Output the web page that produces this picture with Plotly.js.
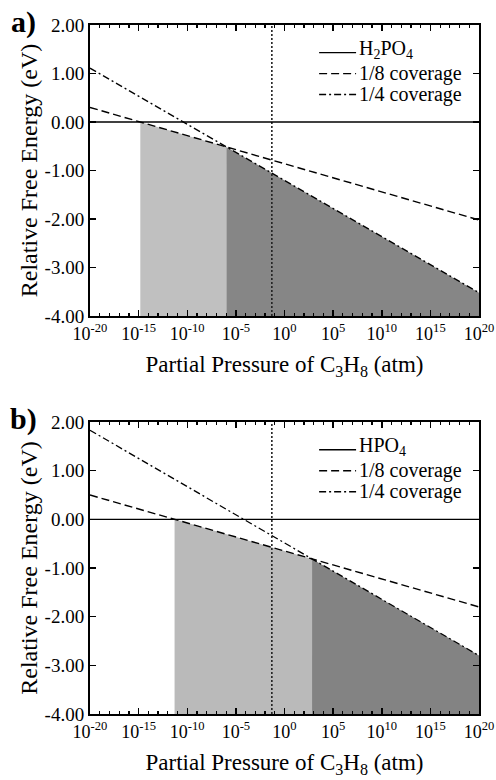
<!DOCTYPE html>
<html>
<head>
<meta charset="utf-8">
<script src="https://cdn.plot.ly/plotly-3.0.1.min.js"></script>
<style>html,body{margin:0;padding:0;background:#fff;}#chart{width:496px;height:780px;}</style>
</head>
<body>
<div id="chart"></div>
<script>
// ---------------- data ----------------
const pressureEnds = [1e-20, 1e20];          // x extent of every line (atm)
const refPressure = 0.05;                   // vertical dotted line (atm)

const panelA_label = 'a)';
const panelA_names = ['H<sub>2</sub>PO<sub>4</sub>', '1/8 coverage', '1/4 coverage'];
const panelA_base = [0, 0];                 // H2PO4 reference
const panelA_cov8 = [0.30, -2.02];          // 1/8 coverage
const panelA_cov4 = [1.11, -3.52];          // 1/4 coverage

const panelB_label = 'b)';
const panelB_names = ['HPO<sub>4</sub>', '1/8 coverage', '1/4 coverage'];
const panelB_base = [0, 0];
const panelB_cov8 = [0.50, -1.80];
const panelB_cov4 = [1.83, -2.80];

const xTickExps = [-20, -15, -10, -5, 0, 5, 10, 15, 20];
const xTickText = xTickExps.map(e => '10<sup>' + e + '</sup>');
const yTickVals = [-4, -3, -2, -1, 0, 1, 2];
const yTickText = yTickVals.map(v => v.toFixed(2));

// ---------------- helpers ----------------
const FONT = '"Liberation Serif", "Times New Roman", Times, serif';
const yRange = [-4, 2];
const xRangeExp = [-20, 20];
const lx = pressureEnds.map(Math.log10);

function lineAt(ys, d) { // linear in log10(p)
  return ys[0] + (ys[1] - ys[0]) * (d - lx[0]) / (lx[1] - lx[0]);
}
function crossing(ya, yb) { // exponent where two lines meet
  const sa = (ya[1] - ya[0]) / (lx[1] - lx[0]);
  const sb = (yb[1] - yb[0]) / (lx[1] - lx[0]);
  return lx[0] + (yb[0] - ya[0]) / (sa - sb);
}

const DASH8 = '8px,4px';
const DASH4 = '7px,3px,2px,3px';

function panelTraces(base, cov8, cov4, names, xa, ya, light, dark) {
  const d0 = crossing(base, cov8);
  const d1 = crossing(cov8, cov4);
  const y1 = lineAt(cov8, d1);
  const yEnd = cov4[1];
  const t = [];
  t.push({x: [10**d0, 10**d0, 10**d1, 10**d1], y: [yRange[0], lineAt(cov8, d0), y1, yRange[0]],
    fill: 'toself', fillcolor: light, mode: 'lines', line: {width: 0, color: light},
    xaxis: xa, yaxis: ya, showlegend: false, hoverinfo: 'skip'});
  t.push({x: [10**d1, 10**d1, pressureEnds[1], pressureEnds[1]], y: [yRange[0], y1, yEnd, yRange[0]],
    fill: 'toself', fillcolor: dark, mode: 'lines', line: {width: 0, color: dark},
    xaxis: xa, yaxis: ya, showlegend: false, hoverinfo: 'skip'});
  t.push({x: [refPressure, refPressure], y: yRange, mode: 'lines',
    line: {color: '#222', width: 1.6, dash: '2px,2px'}, xaxis: xa, yaxis: ya, showlegend: false});
  t.push({x: pressureEnds, y: base, mode: 'lines', name: names[0], line: {color: '#000', width: 1.4},
    xaxis: xa, yaxis: ya, showlegend: false});
  t.push({x: pressureEnds, y: cov8, mode: 'lines', name: names[1], line: {color: '#000', width: 1.4, dash: DASH8},
    xaxis: xa, yaxis: ya, showlegend: false});
  t.push({x: pressureEnds, y: cov4, mode: 'lines', name: names[2], line: {color: '#000', width: 1.3, dash: DASH4},
    xaxis: xa, yaxis: ya, showlegend: false});
  return t;
}

const data = [].concat(
  panelTraces(panelA_base, panelA_cov8, panelA_cov4, panelA_names, 'x', 'y', '#c0c0c0', '#868686'),
  panelTraces(panelB_base, panelB_cov8, panelB_cov4, panelB_names, 'x2', 'y2', '#bababa', '#838383')
);

const minorVals = [];
for (let e = xRangeExp[0]; e <= xRangeExp[1]; e++) minorVals.push(10**e);

function xAxis(anchor) {
  return {type: 'log', range: xRangeExp, anchor: anchor, domain: [0, 1],
    tickmode: 'array', tickvals: xTickExps.map(e => 10**e), ticktext: xTickText,
    ticks: 'inside', ticklen: 6, tickwidth: 1.5, tickcolor: '#000',
    minor: {tickmode: 'array', tickvals: minorVals, ticks: 'inside', ticklen: 3, tickwidth: 1.2, tickcolor: '#000', showgrid: false},
    showline: true, linewidth: 2, linecolor: '#000', mirror: 'allticks',
    showgrid: false, zeroline: false,
    tickfont: {family: FONT, size: 18, color: '#000'},
    title: {text: 'Partial Pressure of C<sub>3</sub>H<sub>8</sub> (atm)', font: {family: FONT, size: 23, color: '#000'}, standoff: 13}};
}
function yAxis(anchor, domain) {
  return {range: yRange, anchor: anchor, domain: domain,
    tickmode: 'array', tickvals: yTickVals, ticktext: yTickText,
    ticks: 'inside', ticklen: 6, tickwidth: 1.5, tickcolor: '#000',
    showline: true, linewidth: 2, linecolor: '#000', mirror: 'allticks',
    showgrid: false, zeroline: false,
    tickfont: {family: FONT, size: 19, color: '#000'},
    title: {text: 'Relative Free Energy (eV)', font: {family: FONT, size: 24, color: '#000'}, standoff: 0}};
}

// custom legends (positions in axis-domain units)
const legRows = [0.905, 0.833, 0.761];
const legDash = ['solid', DASH8, DASH4];
const shapes = [];
const annotations = [];
[['x', 'y', panelA_names], ['x2', 'y2', panelB_names]].forEach(([xa, ya, names]) => {
  names.forEach((nm, i) => {
    shapes.push({type: 'line', xref: xa + ' domain', yref: ya + ' domain',
      x0: 0.589, x1: 0.684, y0: legRows[i], y1: legRows[i],
      line: {color: '#000', width: 1.4, dash: legDash[i]}});
    annotations.push({xref: xa + ' domain', yref: ya + ' domain', x: 0.686, y: legRows[i] + (i === 0 ? 0.012 : 0),
      xanchor: 'left', yanchor: 'middle', showarrow: false, text: nm,
      font: {family: FONT, size: 20, color: '#000'}});
  });
});
annotations.push({xref: 'x domain', yref: 'y domain', x: -0.17, y: 1.01, xanchor: 'center', yanchor: 'middle',
  showarrow: false, text: '<b>' + panelA_label + '</b>', font: {family: FONT, size: 30, color: '#000'}});
annotations.push({xref: 'x2 domain', yref: 'y2 domain', x: -0.17, y: 1.01, xanchor: 'center', yanchor: 'middle',
  showarrow: false, text: '<b>' + panelB_label + '</b>', font: {family: FONT, size: 30, color: '#000'}});

const layout = {
  width: 496, height: 780,
  margin: {l: 90, r: 17, t: 25, b: 66},
  paper_bgcolor: '#fff', plot_bgcolor: '#fff',
  showlegend: false,
  xaxis: xAxis('y'), yaxis: yAxis('x', [0.5776, 1]),
  xaxis2: xAxis('y2'), yaxis2: yAxis('x2', [0, 0.4238]),
  shapes: shapes, annotations: annotations,
  font: {family: FONT, color: '#000'}
};

Plotly.newPlot('chart', data, layout, {staticPlot: true, displayModeBar: false});
</script>
</body>
</html>
